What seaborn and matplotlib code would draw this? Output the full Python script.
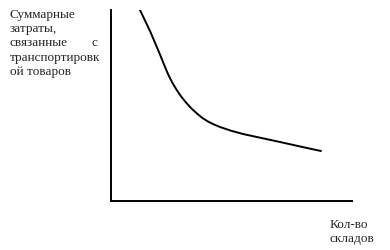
import matplotlib
matplotlib.use("Agg")
import matplotlib.pyplot as plt
import seaborn as sns
import pandas as pd

# Curve (x: number of warehouses, y: total transport cost; arbitrary units)
x_vals = [29, 34, 39, 44, 49, 53, 57.3, 61.5, 65.7, 70.5, 75.7, 80.5, 85.7, 91, 97.3, 103, 109,
          120, 132, 144, 156, 169, 182, 196, 210]
y_vals = [191, 180.5, 170, 158.3, 146.5, 136.5, 126.3, 118, 111, 104, 97.7, 92.5, 87.7, 83.3, 79.3, 76.5, 74,
          70.3, 67, 64.4, 61.8, 59, 56.1, 53, 50]

y_label_lines = [["Суммарные"], ["затраты,"], ["связанные", "с"], ["транспортировк"], ["ой товаров"]]
x_label_lines = ["Кол-во", "складов"]

sns.set_theme(style="white")
plt.rcParams["font.family"] = ["Liberation Serif", "DejaVu Serif"]

W, H = 390, 250
fig = plt.figure(figsize=(W / 100, H / 100), dpi=100)
fig.patch.set_facecolor("white")

left, right, top, bottom = 111, 352, 10, 201
ax = fig.add_axes([left / W, 1 - bottom / H, (right - left) / W, (bottom - top) / H])
df = pd.DataFrame({"x": x_vals, "y": y_vals})
sns.lineplot(data=df, x="x", y="y", ax=ax, color="black", linewidth=1.4)
ax.set_xlim(0, right - left)
ax.set_ylim(0, bottom - top)
ax.set_xticks([])
ax.set_yticks([])
ax.set_xlabel("")
ax.set_ylabel("")
for s in ["top", "right"]:
    ax.spines[s].set_visible(False)
for s in ["left", "bottom"]:
    ax.spines[s].set_color("black")
    ax.spines[s].set_linewidth(1.4)
ax.set_facecolor("white")

fs = 9.5
baselines = [18, 32, 46, 61, 75]
for words, b in zip(y_label_lines, baselines):
    if len(words) == 2:
        fig.text(10 / W, 1 - b / H, words[0], fontsize=fs, ha="left", va="baseline")
        fig.text(97 / W, 1 - b / H, words[1], fontsize=fs, ha="right", va="baseline")
    else:
        fig.text(10 / W, 1 - b / H, words[0], fontsize=fs, ha="left", va="baseline")

for t, b in zip(x_label_lines, [228, 242]):
    fig.text(330 / W, 1 - b / H, t, fontsize=fs, ha="left", va="baseline")

fig.savefig("out.png", dpi=100, facecolor="white")
